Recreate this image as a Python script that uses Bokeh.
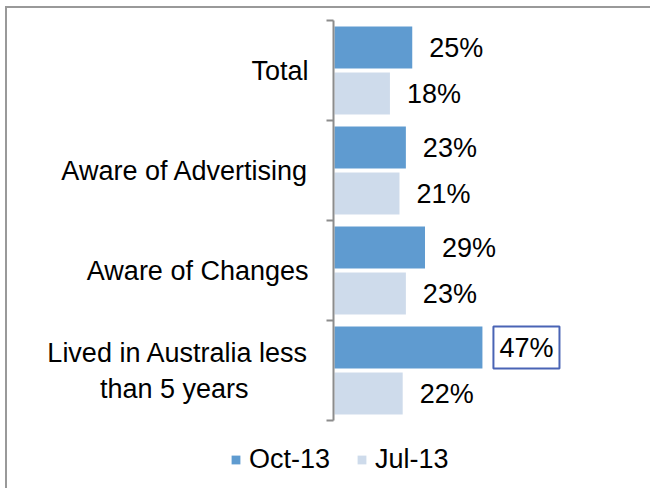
from bokeh.plotting import figure
from bokeh.models import (ColumnDataSource, Range1d, LinearAxis, InlineStyleSheet,
                          FixedTicker, Legend, LegendItem)
from bokeh.core.properties import value
from bokeh.embed import file_html
from bokeh.resources import INLINE

# ---- data ----
categories = ["Total", "Aware of Advertising", "Aware of Changes",
              "Lived in Australia less\nthan 5 years"]
oct13 = [25, 23, 29, 47]
jul13 = [18, 21, 23, 22]
series = ["Oct-13", "Jul-13"]

# ---- styles ----
OCT_COLOR = "#5f9bd0"
JUL_COLOR = "#cedbeb"
GREY = "#8c8c8c"
FONT = "Liberation Sans"
FS = "27px"
W = 645
LEFT = 326

n = len(categories)
# each category occupies 2 units on the y scale; first category on top
centers = [2 * (n - 1 - i) + 1 for i in range(n)]
max_oct = max(oct13)
source = ColumnDataSource(dict(
    cat=categories,
    y_oct=[c + 0.46 for c in centers],
    y_jul=[c - 0.46 for c in centers],
    oct=oct13,
    jul=jul13,
    oct_label=[f"{v}%" for v in oct13],
    jul_label=[f"{v}%" for v in jul13],
    oct_border=["#4a64b5" if v == max_oct else None for v in oct13],
))


def centered_lines(label):
    # pad the shorter line so that the two lines look centred
    lines = label.split("\n")
    if len(lines) < 2:
        return label
    width = max(len(s) for s in lines)
    return "\n".join(s + "\u00a0" * int(round((width - len(s)) * 0.75))
                     for s in lines)


p = figure(width=W, height=420, output_backend="svg", toolbar_location=None,
           y_range=Range1d(0, 2 * n), x_range=Range1d(0, 100),
           x_axis_location=None, y_axis_location=None,
           min_border_left=LEFT, min_border_right=0, min_border_top=12,
           min_border_bottom=8,
           stylesheets=[InlineStyleSheet(css=":host { margin-left: 5px; margin-top: 6px; "
                                             "border-left: 2px solid #999999; "
                                             "border-top: 2px solid #999999; }")])
p.outline_line_color = None
p.xgrid.visible = False
p.ygrid.visible = False

# category axis with ticks at the category boundaries
ticker = FixedTicker(ticks=centers, minor_ticks=[2 * i for i in range(n + 1)])
axis = LinearAxis(ticker=ticker,
                  major_label_overrides={c: centered_lines(cat)
                                         for c, cat in zip(centers, categories)},
                  axis_line_color=GREY, axis_line_width=2,
                  major_tick_line_color=None, major_tick_in=0, major_tick_out=0,
                  minor_tick_line_color=GREY, minor_tick_line_width=2,
                  minor_tick_in=0, minor_tick_out=7,
                  major_label_standoff=18,
                  major_label_text_font=FONT, major_label_text_font_size=FS,
                  major_label_text_color="black")
p.add_layout(axis, "left")

p.hbar(y="y_oct", left=0, right="oct", height=0.88, source=source,
       fill_color=OCT_COLOR, line_color="white", line_width=2)
p.hbar(y="y_jul", left=0, right="jul", height=0.88, source=source,
       fill_color=JUL_COLOR, line_color="white", line_width=2)

p.text(x="oct", y="y_oct", text="oct_label", source=source, x_offset=10,
       text_baseline="middle", text_align="left",
       text_font=value(FONT), text_font_size=FS, text_color="black",
       border_line_color="oct_border", border_line_width=2, padding=6)
p.text(x="jul", y="y_jul", text="jul_label", source=source, x_offset=16,
       text_baseline="middle", text_align="left",
       text_font=value(FONT), text_font_size=FS, text_color="black")

# legend strip below the chart (a separate root; its bars lie out of view)
lf = figure(width=W, height=62, output_backend="svg", toolbar_location=None,
            x_range=Range1d(-200, -100), y_range=Range1d(-200, -100),
            x_axis_location=None, y_axis_location=None,
            min_border_left=0, min_border_right=0, min_border_top=0,
            min_border_bottom=0,
            stylesheets=[InlineStyleSheet(css=":host { margin-left: 5px; "
                                              "border-left: 2px solid #999999; }")])
lf.outline_line_color = None
lf.xgrid.visible = False
lf.ygrid.visible = False
l_oct = lf.hbar(y="y_oct", left=0, right="oct", height=0.88, source=source,
                fill_color=OCT_COLOR, line_color=None)
l_jul = lf.hbar(y="y_jul", left=0, right="jul", height=0.88, source=source,
                fill_color=JUL_COLOR, line_color=None)

legend = Legend(items=[LegendItem(label=series[0], renderers=[l_oct]),
                       LegendItem(label=series[1], renderers=[l_jul])],
                orientation="horizontal", location=(223, 13),
                glyph_width=11, glyph_height=11, label_standoff=8, spacing=26,
                label_text_font=FONT, label_text_font_size=FS,
                label_text_color="black",
                border_line_color=None, background_fill_alpha=0,
                padding=0, margin=0)
lf.add_layout(legend)

open("out.html", "w").write(file_html([p, lf], INLINE, title="chart"))
